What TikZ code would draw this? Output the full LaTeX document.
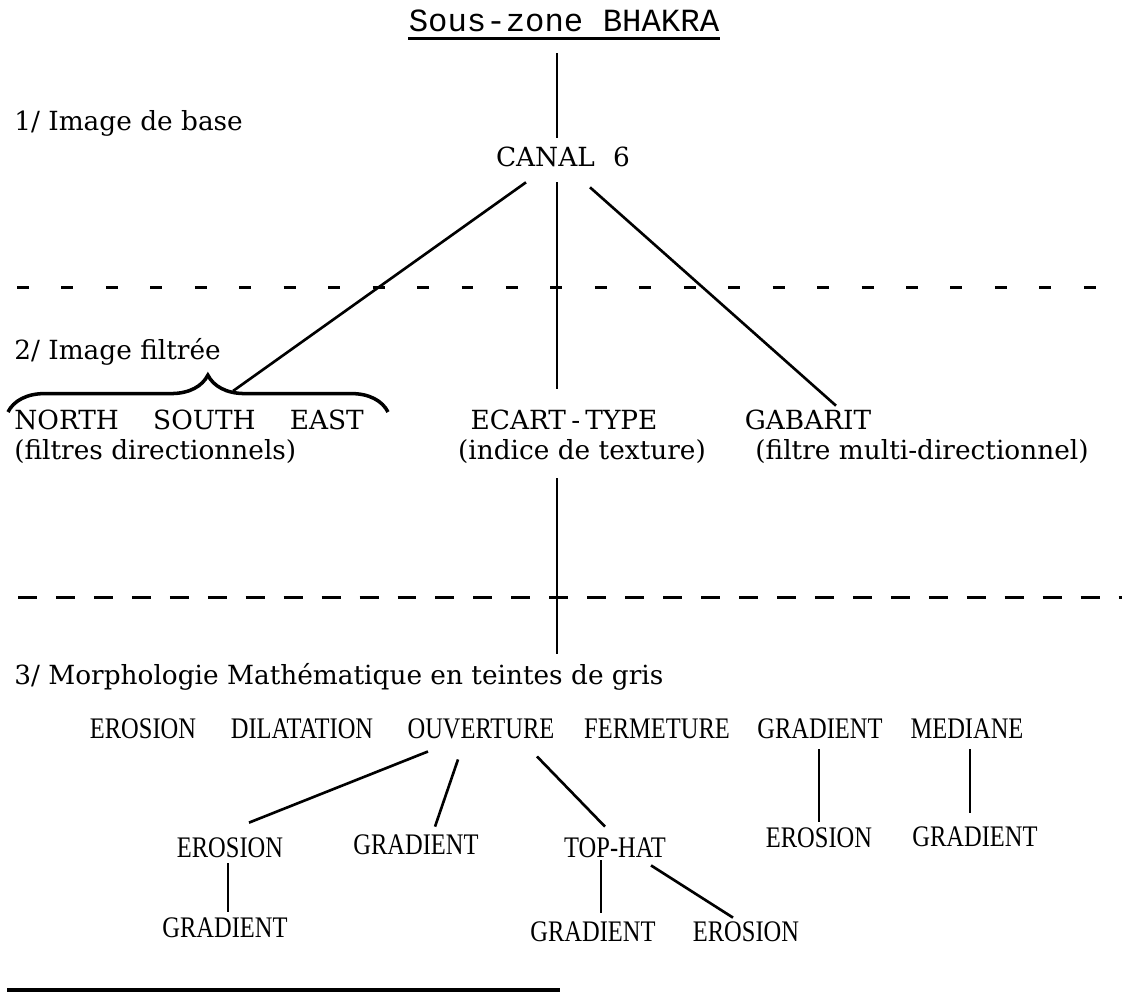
\documentclass[tikz,border=0pt]{standalone}
\usepackage{fontspec}
\setmainfont{DejaVu Serif}
\newfontfamily\typefont{Liberation Mono}
\newfontfamily\narfont[FakeStretch=0.82]{Liberation Serif}
\usepackage{tikz}
\usetikzlibrary{decorations,decorations.pathreplacing}
\usetikzlibrary{calc}

\tikzset{
	ttl/.style={font=\typefont\fontsize{18.4}{20}\selectfont, inner sep=0pt},
	txt/.style={font=\fontsize{15}{18}\selectfont, inner sep=0pt},
	sect/.style={txt, anchor=west},
	op/.style={font=\narfont\fontsize{17}{19}\selectfont, inner sep=0pt},
	link/.style={line width=1.5pt},
	sepA/.style={line width=1.7pt, dash pattern=on 6.8pt off 18.5pt},
	sepB/.style={line width=1.7pt, dash pattern=on 10.8pt off 10.8pt},
}

\begin{document}
\begin{tikzpicture}[x=0.02cm, y=-0.02cm]
	\useasboundingbox (0,0) rectangle (1122,992);
	\coordinate (stem) at (557,0);
	% title and base image
	\node[ttl] (title) at (564,21) {Sous-zone BHAKRA};
	\draw[line width=1.5pt] ($(title.south west)+(0,6)$) -- ($(title.south east)+(0,6)$);
	\node[sect] (lvlA) at (14,123) {1/ Image de base};
	\node[txt] (canal) at (563,157) {CANAL\hspace{0.7em}6};
	\draw[link, shorten <=12pt, shorten >=5pt] (stem |- title.south) -- (stem |- canal.north);
	\draw[sepA] (17,287) -- (1122,287);
	% filtered images
	\node[sect] (lvlB) at (14,352) {2/ Image filtr\'ee};
	\node[sect] (nse) at (14,420) {NORTH\hspace{1.3em}SOUTH\hspace{1.3em}EAST};
	\node[sect] (direc) at (14,452) {(filtres directionnels)};
	\draw[line width=2pt, decorate, decoration={brace, amplitude=21pt, aspect=0.526}] (8,412) -- (388,412);
	\coordinate (braceR) at (233,391);
	\node[txt] (ecart) at (564,420) {ECART\kern3pt-\kern3pt TYPE};
	\node[txt] (indice) at (582,452) {(indice de texture)};
	\node[txt] (gabarit) at (808,420) {GABARIT};
	\node[txt] (multi) at (922,452) {(filtre multi-directionnel)};
	\draw[link] ($(canal.south)+(-37,15)$) -- (braceR);
	\draw[link, shorten <=8.5pt, shorten >=12pt] (stem |- canal.south) -- (stem |- ecart.north);
	\draw[link] ($(canal.south)+(27,20)$) -- ($(gabarit.north)+(28,-4)$);
	\draw[sepB] (18,597) -- (1122,597);
	% grey level morphology
	\node[sect] (lvlC) at (14,677) {3/ Morphologie Math\'ematique en teintes de gris};
	\draw[link, shorten <=8pt, shorten >=5pt] (stem |- indice.south) -- (stem |- lvlC.north);
	\node[op] (eroA) at (143,729) {EROSION};
	\node[op] (dilA) at (302,729) {DILATATION};
	\node[op] (ouv) at (481,729) {OUVERTURE};
	\node[op] (ferm) at (657,729) {FERMETURE};
	\node[op] (gradA) at (820,729) {GRADIENT};
	\node[op] (med) at (967,729) {MEDIANE};
	\node[op] (eroB) at (230,848) {EROSION};
	\node[op] (gradB) at (416,845) {GRADIENT};
	\node[op] (tophat) at (615,848) {TOP-HAT};
	\node[op] (eroC) at (819,838) {EROSION};
	\node[op] (gradC) at (975,837) {GRADIENT};
	\node[op] (gradD) at (225,928) {GRADIENT};
	\node[op] (gradE) at (593,932) {GRADIENT};
	\node[op] (eroD) at (746,932) {EROSION};
	\draw[link] ($(ouv.south)+(-53,12)$) -- ($(eroB.north)+(19,-15)$);
	\draw[link] ($(ouv.south)+(-23,20)$) -- ($(gradB.north)+(19,-8)$);
	\draw[link] ($(ouv.south)+(56,17)$) -- ($(tophat.north)+(-10,-11)$);
	\draw[link] ($(gradA.south)+(-1,10)$) -- ($(eroC.north)+(0,-6)$);
	\draw[link] ($(med.south)+(3,10)$) -- ($(gradC.north)+(-5,-14)$);
	\draw[link] ($(eroB.south)+(-2,5)$) -- ($(gradD.north)+(3,-6)$);
	\draw[link] ($(tophat.south)+(-14,2)$) -- ($(gradE.north)+(8,-9)$);
	\draw[link] ($(tophat.south)+(36,7)$) -- ($(eroD.north)+(-13,-4)$);
	% footnote rule
	\draw[line width=2pt] (7,990) -- (560,990);
\end{tikzpicture}
\end{document}
